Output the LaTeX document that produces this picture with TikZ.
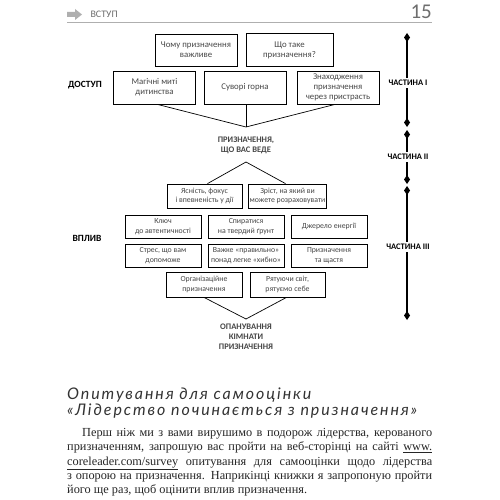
\documentclass[tikz,border=0pt]{standalone}
\usepackage{fontspec}
\setmainfont{Liberation Serif}
\newfontfamily\boxfont{Carlito}
\newfontfamily\headfont[LetterSpace=12]{Lato}
\usetikzlibrary{positioning}
\usetikzlibrary{arrows.meta}
\definecolor{inkgray}{RGB}{70,70,70}
\definecolor{rulegray}{RGB}{175,175,175}
\definecolor{pagegray}{RGB}{110,110,110}

\tikzset{
  topicbox/.style={draw, line width=0.8pt, align=center, inner sep=1pt,
                   font=\boxfont\fontsize{8.8}{10.2}\selectfont, text=inkgray},
  wide/.style={minimum width=82pt, minimum height=33pt},
  narrow/.style={minimum width=76pt, minimum height=24pt,
                 font=\boxfont\fontsize{7.8}{9.6}\selectfont},
  stagelabel/.style={font=\boxfont\bfseries\fontsize{9.5}{11}\selectfont},
  hublabel/.style={align=center, font=\boxfont\bfseries\fontsize{8.5}{10}\selectfont, text=inkgray},
  partlabel/.style={font=\boxfont\bfseries\fontsize{8.5}{10}\selectfont, inner sep=2pt},
  partline/.style={line width=2.2pt},
  diamondtip/.tip={Diamond[width=6pt,length=9pt]},
}

\begin{document}
\begin{tikzpicture}[x=1pt, y=-1pt]
            % Page frame
            \useasboundingbox (0,0) rectangle (500,500);
            \fill[white] (0,0) rectangle (500,500);
            % Running head
            \fill[rulegray] (67,12) -- (75,12) -- (75,9) -- (82,14.5) -- (75,20) -- (75,17) -- (67,17) -- cycle;
            \node[anchor=west, font=\boxfont\fontsize{10}{12}\selectfont, text=pagegray] (head) at (87,14.5) {ВСТУП};
            \node[anchor=east, font=\boxfont\fontsize{21}{24}\selectfont, text=pagegray, inner sep=0pt] (folio) at (432,12) {15};
            \draw[rulegray, line width=0.8pt] (67,22) -- (432,22);
            % Access
            \node[topicbox, wide, minimum height=32pt] (why)   at (196,50)    {Чому призначення\\ важливе};
            \node[topicbox, wide, minimum width=87pt] (what)  at (289.5,50)  {Що таке\\ призначення?};
            \node[topicbox, wide] (magic)   at (154.5,87.5) {Магічні миті\\ дитинства};
            \node[topicbox, wide] (harsh)   at (245,87.5)   {Суворі горна};
            \node[topicbox, wide] (passion) at (338,87.5)   {Знаходження\\ призначення\\ через пристрасть};
            \node[stagelabel] (access) at (85,85) {ДОСТУП};
            \coordinate (join1) at (246,127);
            \draw[line width=0.7pt] (magic.south) ++(3,0) -- (join1);
            \draw[line width=0.7pt] (harsh.south) ++(1,0) -- (join1);
            \draw[line width=0.7pt] (passion.south) ++(-3,0) -- (join1);
            \node[hublabel] (lead) at (246,145) {ПРИЗНАЧЕННЯ,\\ ЩО ВАС ВЕДЕ};
            % Influence
            \coordinate (split1) at (246,162);
            \node[topicbox, narrow, minimum width=75pt] (clarity) at (204.5,196) {Ясність, фокус\\ і впевненість у дії};
            \node[topicbox, narrow, minimum width=75pt] (growth)  at (287.5,196) {Зріст, на який ви\\ можете розраховувати};
            \draw[line width=0.7pt] (clarity.north) ++(3,0) -- (split1) -- ([xshift=-2pt]growth.north);
            \node[topicbox, narrow, minimum height=23pt] (key)    at (163,226.5) {Ключ\\ до автентичності};
            \node[topicbox, narrow, minimum height=23pt] (ground) at (246,226.5) {Спиратися\\ на твердий ґрунт};
            \node[topicbox, narrow, minimum height=23pt] (energy) at (329,226.5) {Джерело енергії};
            \node[topicbox, narrow, minimum height=23pt] (stress) at (163,255.5) {Стрес, що вам\\ допоможе};
            \node[topicbox, narrow, minimum height=23pt] (right)  at (246,255.5) {Важке «правильно»\\ понад легке «хибно»};
            \node[topicbox, narrow, minimum height=23pt] (happy)  at (329,255.5) {Призначення\\ та щастя};
            \node[stagelabel] (influence) at (87,238) {ВПЛИВ};
            \node[topicbox, narrow, minimum height=25pt] (org)  at (204,284.5)   {Організаційне\\ призначення};
            \node[topicbox, narrow, minimum height=25pt, minimum width=75pt] (save) at (287.5,284.5) {Рятуючи світ,\\ рятуємо себе};
            \coordinate (join2) at (246,319);
            \draw[line width=0.7pt] (org.south) -- (join2) -- ([xshift=-1pt]save.south);
            \node[hublabel, font=\boxfont\bfseries\fontsize{8.5}{10.2}\selectfont] (mastery) at (246,337) {ОПАНУВАННЯ\\ КІМНАТИ\\ ПРИЗНАЧЕННЯ};
            % Parts
            \coordinate (p1top) at (407,33);
            \coordinate (p1bot) at (407,127);
            \coordinate (p2top) at (407,130);
            \coordinate (p2bot) at (407,184);
            \coordinate (p3top) at (407,186);
            \coordinate (p3bot) at (407,320);
            \node[partlabel] (part1) at (408,83)  {ЧАСТИНА I};
            \node[partlabel] (part2) at (408,157) {ЧАСТИНА II};
            \node[partlabel] (part3) at (408,247) {ЧАСТИНА III};
            \draw[partline, {diamondtip}-] (p1top) -- (part1.north -| p1top);
            \draw[partline, -{diamondtip}] (part1.south -| p1top) -- (p1bot);
            \draw[partline, {diamondtip}-] (p2top) -- (part2.north -| p2top);
            \draw[partline, -{diamondtip}] (part2.south -| p2top) -- (p2bot);
            \draw[partline, {diamondtip}-] (p3top) -- (part3.north -| p3top);
            \draw[partline, -{diamondtip}] (part3.south -| p3top) -- (p3bot);
            % Survey heading and text
            \node[anchor=north west, align=left, inner sep=0pt, text=black!80,
                  font=\headfont\itshape\fontsize{16}{15.5}\selectfont] (survey) at (67,388)
                  {Опитування для самооцінки\\ «Лідерство починається з призначення»};
            \node[anchor=north west, inner sep=0pt, text=black!85] (intro) at (67,428)
                  {\parbox{365pt}{\fontsize{12.3}{14.4}\selectfont\parindent=15pt\indent
                   Перш ніж ми з вами вирушимо в подорож лідерства, керованого\linebreak
                   призначенням, запрошую вас пройти на веб-сторінці на сайті \underline{www.}\linebreak
                   \underline{coreleader.com/survey} опитування для самооцінки щодо лідерства\linebreak
                   з опорою на призначення. Наприкінці книжки я запропоную пройти\linebreak
                   його ще раз, щоб оцінити вплив призначення.}};
\end{tikzpicture}
\end{document}
